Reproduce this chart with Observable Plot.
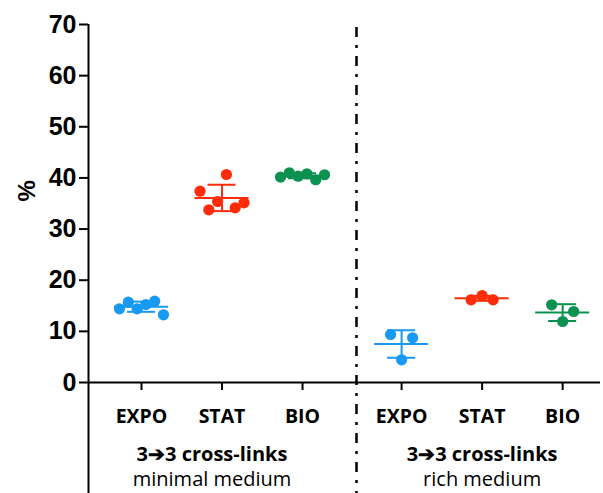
<!DOCTYPE html>
<html>
<head>
<meta charset="utf-8">
<script src="https://cdn.jsdelivr.net/npm/d3@7"></script>
<script src="https://cdn.jsdelivr.net/npm/@observablehq/plot@0.6"></script>
<style>
  html, body { margin: 0; padding: 0; background: #fff; }
  #chart svg { display: block; }
</style>
</head>
<body>
<div id="chart"></div>
<script>
// ---- data ----
const categories = ["EXPO", "STAT", "BIO"];
const media = ["minimal medium", "rich medium"];
const groupTitle = "3\u27943 cross-links";
const yTicks = [0, 10, 20, 30, 40, 50, 60, 70];
const yLabel = "%";
const colors = ["#1899f2", "#ff2c0a", "#0b9150"];

const minimalExpo = [14.41, 15.70, 14.41, 15.25, 15.90, 13.24];
const minimalStat = [37.41, 33.77, 35.39, 40.67, 34.16, 35.14];
const minimalBio  = [40.15, 41.00, 40.34, 40.81, 39.64, 40.62];
const richExpo = [9.39, 4.44, 8.74];
const richStat = [16.17, 17.01, 16.17];
const richBio  = [15.19, 11.93, 13.88];

const series = [
  [minimalExpo, minimalStat, minimalBio],
  [richExpo, richStat, richBio]
];

// ---- layout ----
const W = 603, H = 493;
const mL = 88, mR = 3, mT = 24, mB = 111;
const groupShift = 3.23;          // x distance between the two media groups
const xDomain = [0.342, 6.70];
const unitPx = (W - mL - mR) / (xDomain[1] - xDomain[0]);
const pxPerY = (H - mT - mB) / 70;
const yBottom = -mB / pxPerY;     // bottom edge of svg in data units

const rows = [];
const stats = [];
series.forEach((grp, g) => {
  grp.forEach((vals, c) => {
    const pos = c + 1 + g * groupShift;
    const n = vals.length;
    const stepPx = n > 1 ? Math.min(11, 44 / (n - 1)) : 0;
    vals.forEach((v, i) => {
      const off = (i - (n - 1) / 2) * stepPx / unitPx;
      rows.push({xp: pos + off, v, c});
    });
    const m = d3.mean(vals), sd = d3.deviation(vals);
    stats.push({pos, mean: m, lo: m - sd, hi: m + sd, c});
  });
});

const tickPos = [];
const tickLab = new Map();
media.forEach((_, g) => categories.forEach((cat, c) => {
  const p = c + 1 + g * groupShift;
  tickPos.push(p); tickLab.set(p, cat);
}));
const groupRows = media.map((m, g) => ({x: 2 + g * groupShift, m, dx: g === 0 ? -10 : 0}));
const col = d => colors[d.c];

const meanHalf = 27 / unitPx, capHalf = 14 / unitPx;

const chart = Plot.plot({
  width: W, height: H,
  marginLeft: mL, marginRight: mR, marginTop: mT, marginBottom: mB,
  x: {domain: xDomain, axis: null},
  y: {domain: [0, 70], axis: null},
  style: {background: "#fff", color: "#000", overflow: "visible"},
  marks: [
    Plot.axisY({ticks: yTicks, tickSize: 9, tickPadding: 3, fontSize: 25, fontWeight: "bold",
      fontFamily: "Liberation Sans, Arial, sans-serif", strokeWidth: 2, label: null, anchor: "left"}),
    Plot.axisX({ticks: tickPos, tickFormat: d => tickLab.get(d), tickSize: 8, tickPadding: 19,
      fontSize: 19.5, fontWeight: "bold", fontFamily: "Open Sans, sans-serif", strokeWidth: 2, label: null, anchor: "bottom"}),
    Plot.ruleY([0], {x1: xDomain[0], x2: xDomain[1], strokeWidth: 2, stroke: "#000"}),
    Plot.ruleX([xDomain[0]], {y1: 70, y2: yBottom, strokeWidth: 2, stroke: "#000"}),
    Plot.ruleX([3.67], {y1: 69.4, y2: yBottom, strokeWidth: 2.5, stroke: "#000", strokeDasharray: "10,8,3,8"}),
    Plot.dot(rows, {x: "xp", y: "v", r: 5.6, fill: col, stroke: "none"}),
    Plot.ruleY(stats, {y: "mean", x1: d => d.pos - meanHalf, x2: d => d.pos + meanHalf, stroke: col, strokeWidth: 2}),
    Plot.ruleY(stats, {y: "lo", x1: d => d.pos - capHalf, x2: d => d.pos + capHalf, stroke: col, strokeWidth: 2}),
    Plot.ruleY(stats, {y: "hi", x1: d => d.pos - capHalf, x2: d => d.pos + capHalf, stroke: col, strokeWidth: 2}),
    Plot.ruleX(stats, {x: "pos", y1: "lo", y2: "hi", stroke: col, strokeWidth: 2}),
    Plot.text(groupRows, {x: d => d.x + d.dx / unitPx, y: 0, text: () => groupTitle, dy: 72,
      fontSize: 20, fontWeight: "bold", fontFamily: "Open Sans, sans-serif", fill: "#000"}),
    Plot.text(groupRows, {x: d => d.x + d.dx / unitPx, y: 0, text: "m", dy: 97,
      fontSize: 20, fontFamily: "Open Sans, sans-serif", fill: "#000"}),
    Plot.text([yLabel], {frameAnchor: "left", text: d => d, dx: -61, dy: -2, rotate: -90,
      fontSize: 24, fontWeight: "bold", fontFamily: "Liberation Sans, Arial, sans-serif", fill: "#000"})
  ]
});
document.getElementById("chart").appendChild(chart);
</script>
</body>
</html>
